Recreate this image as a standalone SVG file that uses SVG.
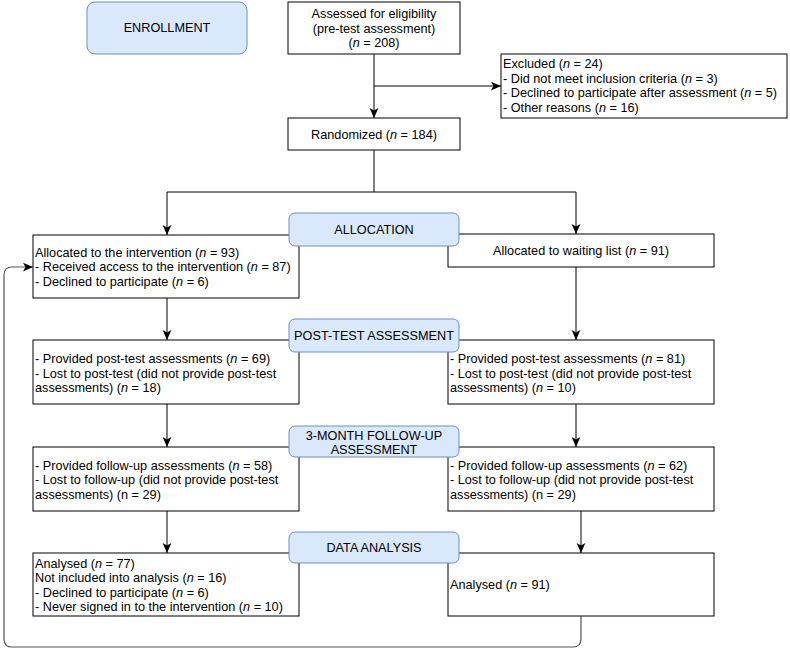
<svg xmlns="http://www.w3.org/2000/svg" width="790" height="650" viewBox="0 0 790 650">
<style>
.box{fill:#fff;stroke:#000;stroke-width:1}
.phase{fill:#dae8fc;stroke:#6c8ebf;stroke-width:1}
text{font-family:"Liberation Sans",Arial,sans-serif;font-size:12.7px;fill:#000}
.c{text-anchor:middle}
.i{font-style:italic}
.conn{fill:none;stroke:#000;stroke-width:1}
.loop{fill:none;stroke:#555;stroke-width:1.2}
</style>
<defs>
<marker id="arr" markerUnits="userSpaceOnUse" markerWidth="10" markerHeight="10" viewBox="0 0 8 7" refX="8" refY="3.5" orient="auto">
<path d="M0,0 L8,3.5 L0,7 L2,3.5 Z" fill="#000"/>
</marker>
</defs>
<rect width="790" height="650" fill="#fff"/>
<g id="connectors">
<path class="conn" d="M374,54 V118" marker-end="url(#arr)"/>
<path class="conn" d="M374,86 H501" marker-end="url(#arr)"/>
<path class="conn" d="M374,150 V192 H167 V235" marker-end="url(#arr)"/>
<path class="conn" d="M374,192 H576 V234" marker-end="url(#arr)"/>
<path class="conn" d="M167,298 V340" marker-end="url(#arr)"/>
<path class="conn" d="M576,267 V340" marker-end="url(#arr)"/>
<path class="conn" d="M167,404 V447" marker-end="url(#arr)"/>
<path class="conn" d="M576,404 V447" marker-end="url(#arr)"/>
<path class="conn" d="M167,511 V553" marker-end="url(#arr)"/>
<path class="conn" d="M581,511 V553" marker-end="url(#arr)"/>
<path class="loop" d="M581,616 V639 Q581,647 573,647 H12 Q4,647 4,639 V275 Q4,267 12,267 H33" marker-end="url(#arr)"/>
</g>
<g id="assessed">
<rect class="box" x="288" y="2" width="172" height="52"/>
<text class="c" x="374" y="18">Assessed for eligibility</text>
<text class="c" x="374" y="32.5">(pre-test assessment)</text>
<text class="c" x="374" y="47">(<tspan class="i">n</tspan> = 208)</text>
</g>
<g id="excluded">
<rect class="box" x="501" y="54" width="286" height="64"/>
<text x="503" y="68">Excluded (<tspan class="i">n</tspan> = 24)</text>
<text x="503" y="82.5">- Did not meet inclusion criteria (<tspan class="i">n</tspan> = 3)</text>
<text x="503" y="97">- Declined to participate after assessment (<tspan class="i">n</tspan> = 5)</text>
<text x="503" y="111.5">- Other reasons (<tspan class="i">n</tspan> = 16)</text>
</g>
<g id="randomized">
<rect class="box" x="288" y="118" width="172" height="32"/>
<text class="c" x="374" y="138.5">Randomized (<tspan class="i">n</tspan> = 184)</text>
</g>
<g id="alloc-left">
<rect class="box" x="33" y="235" width="266" height="63"/>
<text x="35" y="256.5">Allocated to the intervention (<tspan class="i">n</tspan> = 93)</text>
<text x="35" y="271">- Received access to the intervention (<tspan class="i">n</tspan> = 87)</text>
<text x="35" y="285.5">- Declined to participate (<tspan class="i">n</tspan> = 6)</text>
</g>
<g id="alloc-right">
<rect class="box" x="448" y="234" width="266" height="33"/>
<text class="c" x="581" y="255">Allocated to waiting list (<tspan class="i">n</tspan> = 91)</text>
</g>
<g id="post-left">
<rect class="box" x="33" y="340" width="266" height="64"/>
<text x="35" y="363">- Provided post-test assessments (<tspan class="i">n</tspan> = 69)</text>
<text x="35" y="377.5">- Lost to post-test (did not provide post-test</text>
<text x="35" y="392">assessments) (<tspan class="i">n</tspan> = 18)</text>
</g>
<g id="post-right">
<rect class="box" x="448" y="340" width="266" height="64"/>
<text x="450" y="363">- Provided post-test assessments (<tspan class="i">n</tspan> = 81)</text>
<text x="450" y="377.5">- Lost to post-test (did not provide post-test</text>
<text x="450" y="392">assessments) (<tspan class="i">n</tspan> = 10)</text>
</g>
<g id="fu-left">
<rect class="box" x="33" y="447" width="266" height="64"/>
<text x="35" y="469.5">- Provided follow-up assessments (<tspan class="i">n</tspan> = 58)</text>
<text x="35" y="484">- Lost to follow-up (did not provide post-test</text>
<text x="35" y="498.5">assessments) (n = 29)</text>
</g>
<g id="fu-right">
<rect class="box" x="448" y="447" width="266" height="64"/>
<text x="450" y="469.5">- Provided follow-up assessments (<tspan class="i">n</tspan> = 62)</text>
<text x="450" y="484">- Lost to follow-up (did not provide post-test</text>
<text x="450" y="498.5">assessments) (n = 29)</text>
</g>
<g id="an-left">
<rect class="box" x="33" y="553" width="266" height="63"/>
<text x="35" y="567.5">Analysed (<tspan class="i">n</tspan> = 77)</text>
<text x="35" y="582">Not included into analysis (<tspan class="i">n</tspan> = 16)</text>
<text x="35" y="596.5">- Declined to participate (<tspan class="i">n</tspan> = 6)</text>
<text x="35" y="611">- Never signed in to the intervention (<tspan class="i">n</tspan> = 10)</text>
</g>
<g id="an-right">
<rect class="box" x="448" y="553" width="266" height="63"/>
<text x="450" y="589">Analysed (<tspan class="i">n</tspan> = 91)</text>
</g>
<g id="ph-enrollment">
<rect class="phase" x="87" y="2" width="160" height="52" rx="8"/>
<text class="c" x="167" y="32">ENROLLMENT</text>
</g>
<g id="ph-allocation">
<rect class="phase" x="289" y="213" width="170" height="33" rx="6"/>
<text class="c" x="374" y="234">ALLOCATION</text>
</g>
<g id="ph-posttest">
<rect class="phase" x="289" y="319" width="170" height="33" rx="6"/>
<text class="c" x="374" y="340">POST-TEST ASSESSMENT</text>
</g>
<g id="ph-followup">
<rect class="phase" x="289" y="426" width="170" height="31" rx="6"/>
<text class="c" x="374" y="439.5">3-MONTH FOLLOW-UP</text>
<text class="c" x="374" y="453.5">ASSESSMENT</text>
</g>
<g id="ph-analysis">
<rect class="phase" x="289" y="532" width="170" height="31" rx="6"/>
<text class="c" x="374" y="552">DATA ANALYSIS</text>
</g>
</svg>
